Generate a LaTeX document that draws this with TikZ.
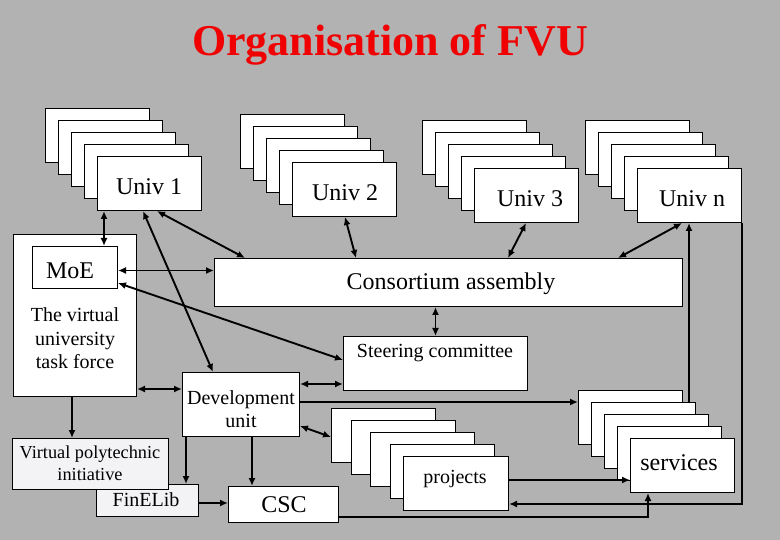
\documentclass[tikz,border=0pt]{standalone}
\usepackage{fontspec}
\setmainfont{Liberation Serif}
\usetikzlibrary{arrows.meta,calc}
\definecolor{bggray}{RGB}{178,178,178}
\definecolor{lightbox}{RGB}{243,243,246}
\definecolor{titlered}{RGB}{240,0,0}
\begin{document}
\begin{tikzpicture}[x=1pt,y=-1pt,
  card/.style={draw=black, fill=white, line width=1pt, inner sep=0pt, anchor=north west, minimum width=104pt, minimum height=54pt},
  pane/.style={draw=black, fill=white, line width=1pt, inner sep=0pt, anchor=north west},
  lpane/.style={pane, fill=lightbox},
  big/.style={anchor=base, inner sep=0pt, font=\fontsize{24}{28}\selectfont},
  mid/.style={anchor=base, inner sep=0pt, font=\fontsize{20}{24}\selectfont},
  sml/.style={anchor=base, inner sep=0pt, font=\fontsize{18.3}{22}\selectfont},
  link/.style={line width=1.9pt},
  two/.style={link, {Latex[length=8pt,width=7pt]}-{Latex[length=8pt,width=7pt]}},
  one/.style={link, -{Latex[length=8pt,width=7pt]}}]
\fill[bggray] (0,0) rectangle (780,540);
\useasboundingbox (0,0) rectangle (780,540);

% title
\node[anchor=base, inner sep=0pt, text=titlered, font=\fontsize{44}{50}\selectfont\bfseries] (title) at (390,56) {Organisation of FVU};

% Univ 1 stack
\node[card] (u1a) at (45,108) {};
\node[card] (u1b) at (58,120) {};
\node[card] (u1c) at (71,132) {};
\node[card] (u1d) at (84,144) {};
\node[card] (u1) at (97,156) {};
\node[big] (tu1) at (149,195) {Univ 1};
% Univ 2 stack
\node[card] (u2a) at (240,114) {};
\node[card] (u2b) at (253,126) {};
\node[card] (u2c) at (266,138) {};
\node[card] (u2d) at (279,150) {};
\node[card] (u2) at (292,162) {};
\node[big] (tu2) at (345,201) {Univ 2};
% Univ 3 stack
\node[card] (u3a) at (422,120) {};
\node[card] (u3b) at (435,132) {};
\node[card] (u3c) at (448,144) {};
\node[card] (u3d) at (461,156) {};
\node[card] (u3) at (474,168) {};
\node[big] (tu3) at (530,207) {Univ 3};
% Univ n stack
\node[card] (una) at (585,120) {};
\node[card] (unb) at (598,132) {};
\node[card] (unc) at (611,144) {};
\node[card] (und) at (624,156) {};
\node[card] (un) at (637,168) {};
\node[big] (tun) at (692,207) {Univ n};

% task force and MoE
\node[pane, minimum width=123pt, minimum height=162pt] (tf) at (13,234) {};
\node[pane, minimum width=85pt, minimum height=42pt] (moe) at (32,246) {};
\node[big] (tmoe) at (70,279) {MoE};
\node[mid] (ttf1) at (75,322) {The virtual};
\node[mid] (ttf2) at (75,346) {university};
\node[mid] (ttf3) at (75,369) {task force};

% consortium, steering, development
\node[pane, minimum width=468pt, minimum height=48pt] (ca) at (214,258) {};
\node[big] (tca) at (451,290) {Consortium assembly};
\node[pane, minimum width=184pt, minimum height=54pt] (st) at (343,336) {};
\node[mid] (tst) at (435,358) {Steering committee};
\node[pane, minimum width=117pt, minimum height=64pt] (dev) at (182,372) {};
\node[mid] (tdev1) at (241,404) {Development};
\node[mid] (tdev2) at (241,427) {unit};

% FinELib, VP, CSC
\node[lpane, minimum width=102pt, minimum height=32pt] (fin) at (96,484) {};
\node[mid] (tfin) at (146,506) {FinELib};
\node[lpane, minimum width=156pt, minimum height=51pt] (vp) at (12,438) {};
\node[sml] (tvp1) at (90,458) {Virtual polytechnic};
\node[sml] (tvp2) at (90,480) {initiative};
\node[pane, minimum width=110pt, minimum height=36pt] (csc) at (228,486) {};
\node[big] (tcsc) at (284,512) {CSC};

% projects stack
\node[card] (p1) at (331,408) {};
\node[card] (p2) at (351,420) {};
\node[card] (p3) at (370,432) {};
\node[card] (p4) at (390,444) {};
\node[card, minimum width=105pt] (p5) at (403,456) {};
\node[mid] (tp) at (455,483) {projects};

% services stack
\node[card] (s1) at (578,390) {};
\node[card] (s2) at (591,402) {};
\node[card] (s3) at (604,414) {};
\node[card] (s4) at (617,426) {};
\node[card] (s5) at (630,438) {};
\node[big] (ts) at (679,470) {services};

% connectors
\draw[two] ([xshift=7pt]u1.south west) -- ([xshift=72pt]moe.north west);
\draw[two] ([yshift=-3pt]moe.east) -- ([yshift=-3pt]moe.east -| ca.west);
\draw[two] ([xshift=60pt]u1.south west) -- ([xshift=31pt]ca.north west);
\draw[two] ([xshift=53pt]u2.south west) -- ([xshift=142pt]ca.north west);
\draw[two] ([xshift=52pt]u3.south west) -- ([xshift=294pt]ca.north west);
\draw[two] ([xshift=45pt]un.south west) -- ([xshift=404pt]ca.north west);
\draw[two] (ca.south -| st.north) -- (st.north);
\draw[two] ([xshift=46pt]u1.south west) -- ([xshift=31pt]dev.north west);
\draw[two] ([yshift=-37pt]moe.north east) -- ([yshift=-24pt]st.north west);
\draw[two] ([yshift=-155pt]tf.north east) -- ([yshift=-155pt]tf.north east -| dev.west);
\draw[two] ([yshift=-12pt]dev.north east) -- ([yshift=-12pt]dev.north east -| st.west);
\draw[one] ([yshift=-30pt]dev.north east) -- ([yshift=-30pt]dev.north east -| s1.west);
\draw[two] ([yshift=-54pt]dev.north east) -- ([yshift=-29pt]p1.north west);
\draw[one] ([xshift=59pt]tf.south west) -- ([xshift=59pt]tf.south west |- vp.north);
\draw[one] ([xshift=4pt]dev.south west) -- ([xshift=4pt]dev.south west |- fin.north);
\draw[one] ([xshift=70pt]dev.south west) -- ([xshift=70pt]dev.south west |- csc.north);
\draw[one] ([yshift=-19pt]fin.north east) -- ([yshift=-19pt]fin.north east -| csc.west);
\draw[one] ([yshift=6pt]csc.south east) -| ([xshift=18pt]s5.south west);
\draw[one] ([yshift=-24pt]p5.north east) -- ([yshift=-24pt]p5.north east -| s5.west);
\draw[one] ([xshift=98pt]s2.north west) -- ([xshift=98pt]s2.north west |- un.south);
\draw[one] (un.south east) |- ([yshift=-48pt]p5.north east);
\end{tikzpicture}
\end{document}
